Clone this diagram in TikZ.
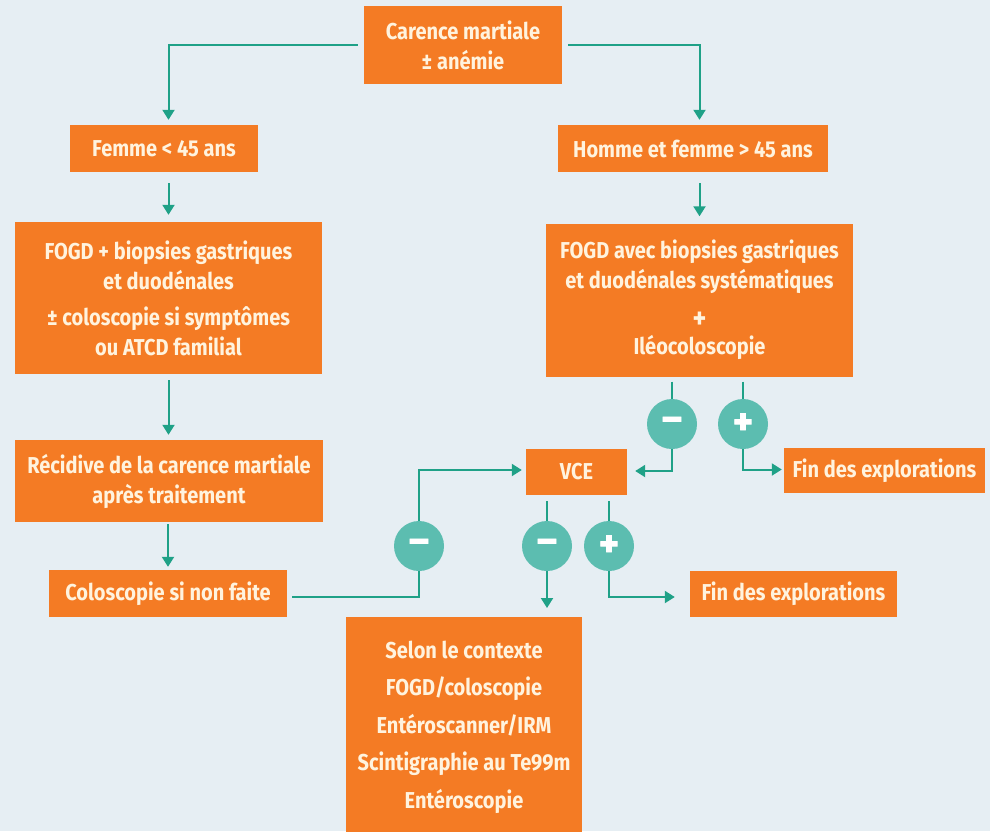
\documentclass[tikz,border=0pt]{standalone}
\usepackage{fontspec}
\newfontfamily\boxfont{Fira Sans}[FakeStretch=0.87]
\newfontfamily\signfont{Fira Sans}[FakeBold=2]
\usetikzlibrary{arrows.meta}
\definecolor{cBg}{HTML}{E6EEF3}
\definecolor{cBox}{HTML}{F47B24}
\definecolor{cTxt}{HTML}{FFF3DE}
\definecolor{cArr}{HTML}{1FA187}
\definecolor{cCirc}{HTML}{5CBDB0}
\tikzset{
  stepbox/.style={fill=cBox, text=cTxt, font=\boxfont\bfseries\fontsize{23}{30}\selectfont, align=center, inner sep=0pt},
  sign/.style={circle, fill=cCirc, minimum size=50pt, inner sep=0pt, text=white, font=\signfont\bfseries\fontsize{38}{38}\selectfont},
  conn/.style={draw=cArr, line width=2pt},
  arrow/.style={conn, -{Triangle[length=10pt,width=12pt]}},
}
\begin{document}
\begin{tikzpicture}[x=1pt,y=-1pt]
\useasboundingbox[fill=cBg] (0,0) rectangle (990,831);
% boxes
\node[stepbox, minimum width=198, minimum height=78] (top) at (463,45) {Carence martiale\\± anémie};
\node[stepbox, minimum width=188, minimum height=47] (femme) at (164,148.5) {Femme < 45 ans};
\node[stepbox, minimum width=270, minimum height=47] (homme) at (693,148.5) {Homme et femme > 45 ans};
\node[stepbox, minimum width=307, minimum height=152] (lfogd) at (168.5,298) {FOGD + biopsies gastriques\\et duodénales\\[6pt]± coloscopie si symptômes\\ou ATCD familial};
\node[stepbox, minimum width=307, minimum height=153] (rfogd) at (699.5,300) {FOGD avec biopsies gastriques\\et duodénales systématiques\\[10pt]{\fontsize{30}{30}\selectfont +}\\[-4pt]Iléocoloscopie};
\node[stepbox, minimum width=308, minimum height=82] (recid) at (169,481) {Récidive de la carence martiale\\après traitement};
\node[stepbox, minimum width=238, minimum height=47] (colo) at (168,593.5) {Coloscopie si non faite};
\node[stepbox, minimum width=101, minimum height=46] (vce) at (576.5,472) {VCE};
\node[stepbox, minimum width=201, minimum height=45] (fin1) at (884.5,470.5) {Fin des explorations};
\node[stepbox, minimum width=207, minimum height=46] (fin2) at (793.5,594) {Fin des explorations};
\node[stepbox, minimum width=236, minimum height=220, font=\boxfont\bfseries\fontsize{23}{37.5}\selectfont] (bot) at (464,727) {Selon le contexte\\FOGD/coloscopie\\Entéroscanner/IRM\\Scintigraphie au Te99m\\Entéroscopie};
% sign circles
\node[sign] (m1) at (672,424) {–};
\node[sign] (p1) at (743,424) {+};
\node[sign] (m0) at (419,546) {–};
\node[sign] (m3) at (547,546) {–};
\node[sign] (p2) at (609,546) {+};
\coordinate (m3end) at (547,608);
% connectors
\draw[arrow, shorten <=6pt, shorten >=5pt] (top.west) -| (femme.north -| lfogd.north);
\draw[arrow, shorten <=6pt, shorten >=5pt] (top.east) -| (homme.north -| rfogd.north);
\draw[arrow, shorten <=11pt, shorten >=7pt] (femme.south -| lfogd.north) -- (lfogd.north);
\draw[arrow, shorten <=11pt, shorten >=7pt] (homme.south -| rfogd.north) -- (rfogd.north);
\draw[arrow, shorten <=6pt, shorten >=5pt] (lfogd.south) -- (recid.north -| lfogd.south);
\draw[arrow, shorten <=2pt, shorten >=3pt] (recid.south -| colo.north) -- (colo.north);
\draw[conn, shorten <=5pt] ([yshift=-3pt]colo.east) -| (m0);
\draw[arrow, shorten >=4pt] (m0) |- ([yshift=2pt]vce.west);
\draw[conn, shorten <=5pt] (rfogd.south -| m1) -- (m1);
\draw[conn, shorten <=5pt] (rfogd.south -| p1) -- (p1);
\draw[arrow, shorten >=8pt] (m1) |- ([yshift=1pt]vce.east);
\draw[arrow, shorten >=2pt] (p1) |- ([yshift=1pt]fin1.west);
\draw[conn, shorten <=6pt] (vce.south -| m3) -- (m3);
\draw[conn, shorten <=6pt] (vce.south -| p2) -- (p2);
\draw[arrow] (m3) -- (m3end);
\draw[arrow, shorten >=15pt] (p2) |- ([yshift=-3pt]fin2.west);
\end{tikzpicture}
\end{document}
